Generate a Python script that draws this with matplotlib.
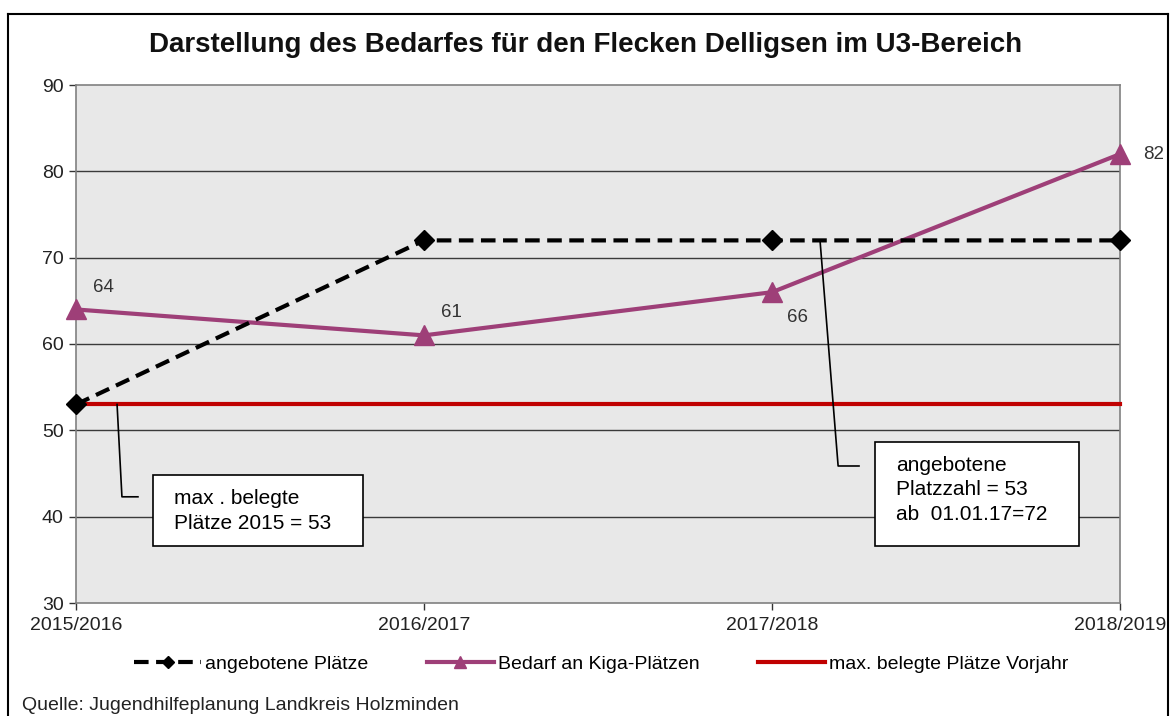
import matplotlib
matplotlib.use("Agg")
import matplotlib.pyplot as plt
from matplotlib.lines import Line2D
from matplotlib.patches import Rectangle

plt.rcParams['font.family'] = ['Liberation Sans', 'DejaVu Sans']

categories = ["2015/2016", "2016/2017", "2017/2018", "2018/2019"]
angebotene = [53, 72, 72, 72]
bedarf = [64, 61, 66, 82]
max_belegt = [53, 53, 53, 53]
yticks = [30, 40, 50, 60, 70, 80, 90]

title = "Darstellung des Bedarfes für den Flecken Delligsen im U3-Bereich"
source = "Quelle: Jugendhilfeplanung Landkreis Holzminden"

W, H = 1172, 716
fig = plt.figure(figsize=(W / 100, H / 100), dpi=100)

def fx(px): return px / W
def fy(py): return 1 - py / H

# outer frame
fig.add_artist(Line2D([fx(8), fx(8)], [fy(14), 0], color='black', lw=1.5, transform=fig.transFigure))
fig.add_artist(Line2D([fx(8), fx(1168)], [fy(14), fy(14)], color='black', lw=1.5, transform=fig.transFigure))
fig.add_artist(Line2D([fx(1168), fx(1168)], [fy(14), 0], color='black', lw=1.5, transform=fig.transFigure))

ax = fig.add_axes([fx(76), fy(603), fx(1120) - fx(76), fy(85) - fy(603)])
ax.set_facecolor('#E8E8E8')
x = list(range(len(categories)))

for yv in yticks[1:-1]:
    ax.axhline(yv, color='#3a3a3a', lw=1.0, zorder=1)

red = '#C00000'
purple = '#9E3F78'
ax.plot(x, max_belegt, color=red, lw=3.0, zorder=3, label='max. belegte Plätze Vorjahr', clip_on=False)
ax.plot(x, bedarf, color=purple, lw=3.0, marker='^', ms=14, zorder=4, label='Bedarf an Kiga-Plätzen',
        clip_on=False)
ax.plot(x, angebotene, color='black', lw=3.0, ls=(0, (3.5, 1.8)), marker='D', ms=10, zorder=5,
        label='angebotene Plätze', clip_on=False)

# data labels (offsets in data units)
offsets = [(0.078, 2.6), (0.08, 2.6), (0.072, -2.9), (0.098, 0.0)]
for xi, (v, (dx, dy)) in enumerate(zip(bedarf, offsets)):
    ax.text(xi + dx, v + dy, str(v), fontsize=13.5, color='#333333',
            ha='center', va='center', zorder=6, clip_on=False)

ax.set_xlim(0, 3)
ax.set_ylim(30, 90)
ax.set_yticks(yticks)
ax.set_xticks(x)
ax.set_xticklabels(categories)
ax.tick_params(axis='both', labelsize=14, color='#333333', length=5, direction='out', width=1,
               labelcolor='#222222')
ax.tick_params(axis='x', pad=5)
ax.tick_params(axis='y', pad=4)
for s in ax.spines.values():
    s.set_color('#808080')
    s.set_linewidth(1.2)

# callout 1
ax.plot([0.118, 0.132, 0.178], [53, 42.3, 42.3], color='black', lw=1.2, zorder=6)
ax.add_patch(Rectangle((0.221, 36.6), 0.825 - 0.221, 44.83 - 36.6, facecolor='white',
                       edgecolor='black', lw=1.2, zorder=7))
ax.text(0.2816, 40.66, "max . belegte\nPlätze 2015 = 53", fontsize=15, va='center', ha='left',
        color='black', zorder=8, linespacing=1.34)

# callout 2
ax.plot([2.138, 2.190, 2.25], [72, 45.87, 45.87], color='black', lw=1.2, zorder=6)
ax.add_patch(Rectangle((2.296, 36.6), 2.882 - 2.296, 48.65 - 36.6, facecolor='white',
                       edgecolor='black', lw=1.2, zorder=7))
ax.text(2.356, 43.09, "angebotene\nPlatzzahl = 53\nab  01.01.17=72", fontsize=15, va='center', ha='left',
        color='black', zorder=8, linespacing=1.34)

fig.text(0.5, fy(45), title, fontsize=20, fontweight='bold', ha='center', va='center', color='#111111')

handles, labels = ax.get_legend_handles_labels()
order = [2, 1, 0]
fig.legend([handles[i] for i in order], [labels[i] for i in order], loc='center',
           bbox_to_anchor=(fx(601), fy(664)), ncol=3, frameon=False, fontsize=14,
           handlelength=3.45, columnspacing=3.0, handletextpad=0.2, borderpad=0, borderaxespad=0,
           markerscale=0.65)

fig.text(fx(22), fy(706), source, fontsize=14, ha='left', va='center', color='#222222')

fig.savefig('out.png', dpi=100)
